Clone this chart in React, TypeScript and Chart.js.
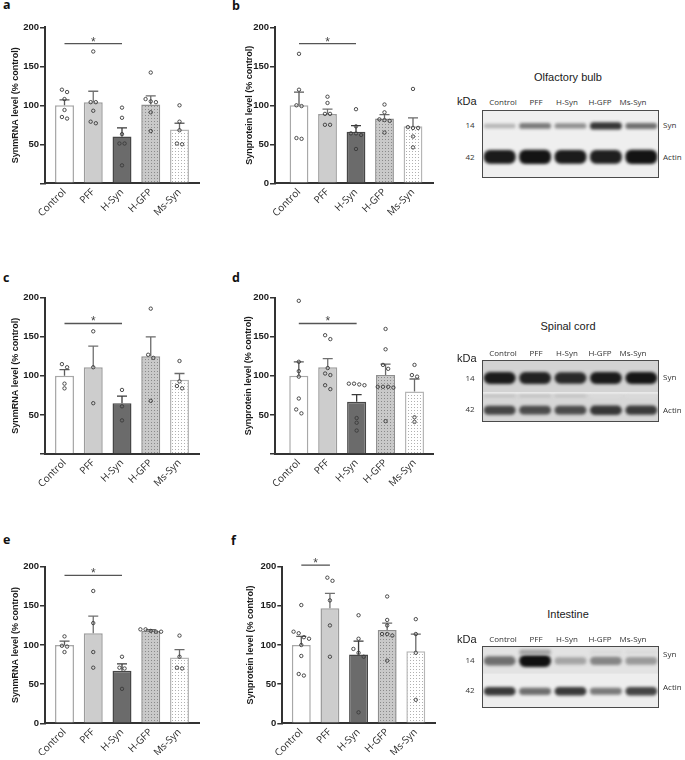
import React, { useEffect, useRef } from 'react';
import { Chart, registerables } from 'chart.js';

Chart.register(...registerables);

// ---------- categories & ticks ----------
const categories = ['Control', 'PFF', 'H-Syn', 'H-GFP', 'Ms-Syn'];
const yTickValues = [0, 50, 100, 150, 200];
const lanes = ['Control', 'PFF', 'H-Syn', 'H-GFP', 'Ms-Syn'];
const mrnaTitle = 'SynmRNA level (% control)';
const proteinTitle = 'Synprotein level (% control)';

// ---------- panel a: olfactory bulb mRNA ----------
const aMeans = [100, 104, 60, 101, 69];
const aSem = [7, 14, 11, 11, 8];
const aPoints = [
  [120, 117, 108, 94, 85, 83],
  [169, 104, 104, 93, 79, 77],
  [97, 84, 63, 51, 51, 23],
  [142, 108, 105, 104, 91, 67],
  [100, 79, 68, 51, 50],
];
const aSig = [0, 2, 179];

// ---------- panel b: olfactory bulb protein ----------
const bMeans = [100, 89, 66, 83, 73];
const bSem = [17, 6, 8, 5, 11];
const bPoints = [
  [166, 120, 100, 99, 58, 57],
  [111, 103, 89, 89, 75, 75],
  [95, 73, 64, 64, 62, 44],
  [101, 91, 82, 81, 80, 65],
  [121, 72, 71, 71, 60, 46],
];
const bSig = [0, 2, 179];

// ---------- panel c: spinal cord mRNA ----------
const cMeans = [100, 111, 65, 125, 95];
const cSem = [8, 27, 9, 25, 8];
const cPoints = [
  [115, 111, 90, 84],
  [157, 111, 65],
  [82, 61, 43],
  [186, 127, 123, 68],
  [119, 93, 87, 84],
];
const cSig = [0, 2, 167];

// ---------- panel d: spinal cord protein ----------
const dMeans = [100, 111, 67, 101, 80];
const dSem = [18, 11, 9, 14, 16];
const dPoints = [
  [196, 118, 106, 99, 71, 57, 52],
  [152, 147, 110, 103, 101, 88, 83],
  [90, 90, 89, 88, 46, 40, 30],
  [160, 134, 114, 109, 86, 86, 86, 85, 42],
  [114, 101, 99, 47, 41],
];
const dSig = [0, 2, 167];

// ---------- panel e: intestine mRNA ----------
const eMeans = [100, 115, 67, 118, 84];
const eSem = [5, 22, 9, 1.5, 10];
const ePoints = [
  [111, 99, 98, 91],
  [169, 128, 91, 71],
  [85, 71, 70, 44],
  [120, 120, 118, 117, 117],
  [112, 85, 71, 70],
];
const eSig = [0, 2, 189];

// ---------- panel f: intestine protein ----------
const fMeans = [100, 147, 88, 119, 92];
const fSem = [11, 19, 17, 9, 22];
const fPoints = [
  [151, 117, 115, 110, 108, 100, 86, 63, 61],
  [186, 182, 157, 125, 85],
  [138, 108, 95, 90, 85, 14],
  [162, 132, 125, 114, 114, 112, 80],
  [133, 114, 90, 30],
];
const fSig = [0, 1, 202];

// ---------- western blot band intensities (0..1) ----------
const obSyn = [0.22, 0.5, 0.4, 0.82, 0.55];
const obActin = [0.95, 0.98, 0.95, 0.93, 0.98];
const scSyn = [0.95, 0.92, 0.88, 0.95, 0.97];
const scFaint = [0.2, 0.2, 0.2, 0.03, 0.03];
const scActin = [0.75, 0.72, 0.72, 0.82, 0.8];
const inSmear = [0, 0.3, 0, 0.05, 0.05];
const inSyn = [0.55, 1.0, 0.3, 0.45, 0.35];
const inActin = [0.8, 0.55, 0.8, 0.5, 0.75];

// ---------- styles ----------
function dots(bg: string, dot: string): CanvasPattern | string {
  const c = document.createElement('canvas');
  c.width = 3;
  c.height = 3;
  const g = c.getContext('2d');
  if (!g) return bg;
  g.fillStyle = bg;
  g.fillRect(0, 0, 3, 3);
  g.fillStyle = dot;
  g.fillRect(1, 1, 1, 1);
  return g.createPattern(c, 'repeat') || bg;
}

const barBorders = ['#a8a8a8', '#9c9c9c', '#464646', '#8e8e8e', '#b6b6b6'];
const errColors = ['#5a5a5a', '#707070', '#3a3a3a', '#6a6a6a', '#6a6a6a'];

function swarm(vals: number[], thr = 6, step = 0.18) {
  const s = [...vals].sort((a, b) => b - a);
  const out: { y: number; dx: number }[] = [];
  let i = 0;
  while (i < s.length) {
    let j = i;
    while (j + 1 < s.length && s[j] - s[j + 1] < thr) j++;
    const n = j - i + 1;
    for (let k = 0; k < n; k++) out.push({ y: s[i + k], dx: (k - (n - 1) / 2) * step });
    i = j + 1;
  }
  return out;
}

type Layout = {
  x0: number; y0: number; axisX: number; endX: number; top: number; bottom: number;
  padStart: number; padEnd: number; showZero: boolean;
};

const LA: Layout = { x0: 0, y0: 0, axisX: 45, endX: 199, top: 27.3, bottom: 183.3, padStart: 19.5, padEnd: 19.5, showZero: false };
const LB: Layout = { x0: 234, y0: 0, axisX: 275, endX: 433, top: 27.3, bottom: 183.3, padStart: 24, padEnd: 20, showZero: true };
const LC: Layout = { x0: 0, y0: 250, axisX: 45, endX: 199.3, top: 297.7, bottom: 454, padStart: 19.5, padEnd: 19.8, showZero: false };
const LD: Layout = { x0: 233, y0: 250, axisX: 275, endX: 433.3, top: 297.7, bottom: 454, padStart: 23.8, padEnd: 18.8, showZero: false };
const LE: Layout = { x0: 0, y0: 500, axisX: 45, endX: 199.3, top: 566.7, bottom: 723.3, padStart: 19.5, padEnd: 19.8, showZero: true };
const LF: Layout = { x0: 235, y0: 500, axisX: 282.3, endX: 435, top: 566.7, bottom: 723.3, padStart: 19, padEnd: 19.2, showZero: true };

function BarPanel(props: { means: number[]; sem: number[]; points: number[][]; sig: number[]; title: string; L: Layout }) {
  const ref = useRef<HTMLCanvasElement>(null);
  const { L } = props;
  const W = Math.round(L.endX - L.x0 + 12);
  const H = 255;
  useEffect(() => {
    const canvas = ref.current;
    if (!canvas) return;
    const { means, sem, points, sig, title } = props;
    const n = categories.length;
    const spacing = (L.endX - L.axisX - L.padStart - L.padEnd) / (n - 1);
    const xMin = -L.padStart / spacing;
    const xMax = n - 1 + L.padEnd / spacing;
    const padLeft = 5;
    const yW = L.axisX - L.x0 - padLeft;
    const padTop = L.top - L.y0;
    const xH = H - (L.bottom - L.y0);
    const padRight = W - (L.endX - L.x0);
    const fills = ['#ffffff', '#cdcdcd', '#6b6b6b', dots('#c9c9c9', '#8a8a8a'), dots('#ffffff', '#b0b0b0')];
    const scatterData = points.flatMap((vals, i) => swarm(vals).map((p) => ({ x: i + p.dx, y: p.y })));

    const extras = {
      id: 'extras',
      afterDatasetDraw(chart: any, args: any) {
        if (args.index !== 0) return;
        const ctx = chart.ctx;
        const ys = chart.scales.y;
        const meta = chart.getDatasetMeta(0);
        meta.data.forEach((el: any, i: number) => {
          const yT = ys.getPixelForValue(means[i] + sem[i]);
          ctx.save();
          ctx.strokeStyle = errColors[i];
          ctx.lineWidth = 1.3;
          ctx.beginPath();
          ctx.moveTo(el.x, el.y);
          ctx.lineTo(el.x, yT);
          ctx.moveTo(el.x - 5, yT);
          ctx.lineTo(el.x + 5, yT);
          ctx.stroke();
          ctx.restore();
        });
      },
      afterDraw(chart: any) {
        const ctx = chart.ctx;
        const xs = chart.scales.x;
        const ys = chart.scales.y;
        const x1 = xs.getPixelForValue(sig[0]);
        const x2 = xs.getPixelForValue(sig[1]);
        const y = ys.getPixelForValue(sig[2]);
        ctx.save();
        ctx.strokeStyle = '#555';
        ctx.lineWidth = 1.3;
        ctx.beginPath();
        ctx.moveTo(x1, y);
        ctx.lineTo(x2, y);
        ctx.stroke();
        ctx.fillStyle = '#444';
        ctx.font = '12px "Liberation Sans"';
        ctx.textAlign = 'center';
        ctx.textBaseline = 'alphabetic';
        ctx.fillText('*', (x1 + x2) / 2, y + 2);
        ctx.restore();
      },
    };

    const chart = new Chart(canvas, {
      type: 'bar',
      data: {
        datasets: [
          {
            type: 'bar',
            data: means.map((m, i) => ({ x: i, y: m })),
            backgroundColor: fills as any,
            borderColor: barBorders,
            borderWidth: 1.5,
            borderSkipped: 'start',
            barPercentage: 0.66,
            categoryPercentage: 1,
            order: 1,
          } as any,
          {
            type: 'scatter',
            data: scatterData,
            pointRadius: 1.7,
            pointBorderWidth: 0.9,
            pointBorderColor: '#3a3a3a',
            pointBackgroundColor: 'rgba(255,255,255,0)',
            order: 0,
          } as any,
        ],
      },
      options: {
        responsive: false,
        animation: false,
        events: [],
        layout: { padding: { left: padLeft, top: padTop, right: padRight, bottom: 0 } },
        plugins: { legend: { display: false }, tooltip: { enabled: false } },
        scales: {
          x: {
            type: 'linear',
            min: xMin,
            max: xMax,
            offset: false,
            afterBuildTicks: (s: any) => { s.ticks = categories.map((_, i) => ({ value: i })); },
            afterFit: (s: any) => { s.height = xH; },
            ticks: {
              autoSkip: false,
              minRotation: 45,
              maxRotation: 45,
              padding: 3,
              color: '#2a2a2a',
              font: { family: '"Open Sans"', size: 10 },
              callback: (v: any) => categories[Math.round(Number(v))] ?? '',
            },
            grid: { display: false, drawTicks: false, offset: false },
            border: { display: true, color: '#333', width: 2 },
          } as any,
          y: {
            min: 0,
            max: 200,
            afterBuildTicks: (s: any) => { s.ticks = yTickValues.map((v) => ({ value: v })); },
            afterFit: (s: any) => { s.width = yW; },
            ticks: {
              padding: 1,
              color: '#1a1a1a',
              font: { family: '"Liberation Sans"', size: 9.5, weight: 'bold' },
              callback: (v: any) => (Number(v) === 0 && !L.showZero ? '' : String(v)),
            },
            grid: { display: true, drawOnChartArea: false, drawTicks: true, tickLength: 5, color: '#333', lineWidth: 1.5 },
            border: { display: true, color: '#333', width: 2 },
            title: {
              display: true,
              text: title,
              color: '#1a1a1a',
              font: { family: '"Liberation Sans"', size: 9, weight: 'bold' },
              padding: { top: 5, bottom: 0 },
            },
          } as any,
        },
      },
      plugins: [extras],
    });
    return () => chart.destroy();
  }, []);
  return (
    <canvas
      ref={ref}
      width={W}
      height={H}
      style={{ position: 'absolute', left: L.x0, top: L.y0, width: W, height: H }}
    />
  );
}

type Row = { values: number[]; center: number; thick: number };
type Seg = [number, number, string];

function shade(v: number) {
  const g = Math.round(228 - 212 * v);
  return `rgb(${g},${g},${g})`;
}

function Blot(props: { rows: Row[]; bg: Seg[]; left: number; top: number; width: number; height: number }) {
  const ref = useRef<HTMLCanvasElement>(null);
  const { left, top, width, height } = props;
  useEffect(() => {
    const canvas = ref.current;
    if (!canvas) return;
    const { rows, bg } = props;
    const frame = {
      id: 'frame',
      beforeDraw(chart: any) {
        const { ctx, chartArea: a } = chart;
        ctx.save();
        bg.forEach(([f, t, c]) => {
          ctx.fillStyle = c;
          ctx.fillRect(a.left, a.top + f * (a.bottom - a.top), a.right - a.left, (t - f) * (a.bottom - a.top));
        });
        ctx.restore();
      },
      beforeDatasetsDraw(chart: any) {
        chart.ctx.save();
        chart.ctx.filter = 'blur(1.4px)';
      },
      afterDatasetsDraw(chart: any) {
        chart.ctx.restore();
      },
      afterDraw(chart: any) {
        const { ctx, chartArea: a } = chart;
        ctx.save();
        ctx.strokeStyle = '#4a4a4a';
        ctx.lineWidth = 1;
        ctx.strokeRect(a.left + 0.5, a.top + 0.5, a.right - a.left - 1, a.bottom - a.top - 1);
        ctx.restore();
      },
    };
    const chart = new Chart(canvas, {
      type: 'bar',
      data: {
        labels: lanes,
        datasets: rows.map((r) => ({
          data: r.values.map((v) => {
            const h = r.thick * (0.4 + 0.6 * v);
            return [r.center - h / 2, r.center + h / 2];
          }),
          backgroundColor: r.values.map((v) => (v <= 0 ? 'rgba(0,0,0,0)' : shade(v))),
          borderWidth: 0,
          borderRadius: 6,
          borderSkipped: false,
          barPercentage: 0.9,
          categoryPercentage: 1,
          grouped: false,
        })) as any,
      },
      options: {
        responsive: false,
        animation: false,
        events: [],
        layout: { padding: 0 },
        plugins: { legend: { display: false }, tooltip: { enabled: false } },
        scales: {
          x: { type: 'category', display: false, offset: true } as any,
          y: { min: 0, max: 1, reverse: true, display: false },
        },
      },
      plugins: [frame],
    });
    return () => chart.destroy();
  }, []);
  return (
    <canvas
      ref={ref}
      width={width}
      height={height}
      style={{ position: 'absolute', left, top, width, height }}
    />
  );
}

// text placed by baseline
const ASC: Record<string, number> = { open: 0.388, lib: 0.3465 };
function T(props: {
  x: number; y: number; text: string; size: number; fam?: 'open' | 'lib'; bold?: boolean;
  anchor?: 'start' | 'middle'; color?: string;
}) {
  const fam = props.fam || 'open';
  return (
    <div
      style={{
        position: 'absolute',
        left: props.x,
        top: props.y - ASC[fam] * props.size,
        lineHeight: 0,
        fontSize: props.size,
        fontFamily: fam === 'open' ? '"Open Sans", sans-serif' : '"Liberation Sans", Arial, sans-serif',
        fontWeight: props.bold ? 700 : 400,
        color: props.color || '#222',
        whiteSpace: 'nowrap',
        transform: props.anchor === 'middle' ? 'translateX(-50%)' : undefined,
      }}
    >
      {props.text}
    </div>
  );
}

const laneX = [503, 536, 567, 600, 633];

function BlotLabels(props: { title: string; titleY: number; laneY: number; kdaY: number; y14: number; y42: number; synY: number; actinY: number }) {
  const p = props;
  return (
    <>
      <T x={568} y={p.titleY} text={p.title} size={11} fam="lib" anchor="middle" color="#1a1a1a" />
      <T x={457} y={p.kdaY} text="kDa" size={11} fam="lib" color="#1a1a1a" />
      {lanes.map((l, i) => (
        <T key={l} x={laneX[i]} y={p.laneY} text={l} size={8} anchor="middle" color="#333" />
      ))}
      <T x={470} y={p.y14} text="14" size={8} anchor="middle" color="#333" />
      <T x={470} y={p.y42} text="42" size={8} anchor="middle" color="#333" />
      <T x={663} y={p.synY} text="Syn" size={8} color="#333" />
      <T x={663} y={p.actinY} text="Actin" size={8} color="#333" />
    </>
  );
}

export default function App() {
  useEffect(() => {
    document.body.style.margin = '0';
  }, []);
  return (
    <div style={{ position: 'relative', width: 685, height: 760, background: '#fff', overflow: 'hidden' }}>
      <T x={3} y={10} text="a" size={12.5} bold color="#111" />
      <T x={232} y={11} text="b" size={12.5} bold color="#111" />
      <T x={3} y={283} text="c" size={12.5} bold color="#111" />
      <T x={232} y={283} text="d" size={12.5} bold color="#111" />
      <T x={3} y={545} text="e" size={12.5} bold color="#111" />
      <T x={231} y={546} text="f" size={12.5} bold color="#111" />

      <BarPanel means={aMeans} sem={aSem} points={aPoints} sig={aSig} title={mrnaTitle} L={LA} />
      <BarPanel means={bMeans} sem={bSem} points={bPoints} sig={bSig} title={proteinTitle} L={LB} />
      <BarPanel means={cMeans} sem={cSem} points={cPoints} sig={cSig} title={mrnaTitle} L={LC} />
      <BarPanel means={dMeans} sem={dSem} points={dPoints} sig={dSig} title={proteinTitle} L={LD} />
      <BarPanel means={eMeans} sem={eSem} points={ePoints} sig={eSig} title={mrnaTitle} L={LE} />
      <BarPanel means={fMeans} sem={fSem} points={fPoints} sig={fSig} title={proteinTitle} L={LF} />

      <BlotLabels title="Olfactory bulb" titleY={80.7} laneY={105} kdaY={105} y14={128.3} y42={160} synY={128} actinY={160} />
      <Blot
        left={482} top={110} width={177} height={68}
        bg={[[0, 1, '#efefef']]}
        rows={[
          { values: obSyn, center: 0.235, thick: 0.12 },
          { values: obActin, center: 0.69, thick: 0.21 },
        ]}
      />

      <BlotLabels title="Spinal cord" titleY={330} laneY={356} kdaY={362} y14={380.7} y42={412} synY={380} actinY={412.7} />
      <Blot
        left={482} top={360} width={177} height={62}
        bg={[[0, 0.52, '#d3d3d3'], [0.52, 0.55, '#e6e6e6'], [0.55, 1, '#d7d7d7']]}
        rows={[
          { values: scSyn, center: 0.29, thick: 0.2 },
          { values: scFaint, center: 0.58, thick: 0.06 },
          { values: scActin, center: 0.81, thick: 0.17 },
        ]}
      />

      <BlotLabels title="Intestine" titleY={618} laneY={641.7} kdaY={643} y14={663} y42={693} synY={657} actinY={690} />
      <Blot
        left={482} top={646} width={177} height={62}
        bg={[[0, 0.45, '#e3e3e3'], [0.45, 1, '#eeeeee']]}
        rows={[
          { values: inSmear, center: 0.1, thick: 0.15 },
          { values: inSyn, center: 0.24, thick: 0.2 },
          { values: inActin, center: 0.73, thick: 0.16 },
        ]}
      />
    </div>
  );
}
